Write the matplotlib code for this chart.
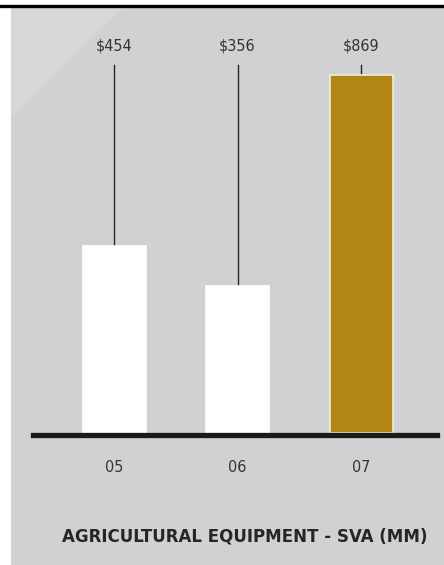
import matplotlib.pyplot as plt
from matplotlib.patches import Rectangle, Polygon

years = ['05', '06', '07']
values = [454, 356, 869]
labels = ['$454', '$356', '$869']
colors = ['white', 'white', '#b08614']
edges = ['white', 'white', '#f4ecd6']
title = 'AGRICULTURAL EQUIPMENT - SVA (MM)'

W, H = 444, 565
plt.rcParams['font.family'] = ['DejaVu Sans']
plt.rcParams['font.stretch'] = 'condensed'

fig = plt.figure(figsize=(W / 100, H / 100), dpi=100)
fig.patch.set_facecolor('white')

# gray panel, lighter diagonal corner, black rule on top
fig.add_artist(Rectangle((11 / W, 0), 1, (H - 8) / H, transform=fig.transFigure,
                         facecolor='#d0d1d3', edgecolor='none', zorder=0))
fig.add_artist(Polygon([(11 / W, (H - 8) / H), (122 / W, (H - 8) / H), (11 / W, (H - 118) / H)],
                       transform=fig.transFigure, facecolor='#d6d7d9', edgecolor='none', zorder=0))
fig.add_artist(plt.Line2D([0, 1], [(H - 5.5) / H, (H - 5.5) / H], transform=fig.transFigure,
                          color='black', lw=2.4))

base_px = 433
ax = fig.add_axes([33 / W, (H - base_px) / H, 404 / W, 412 / H])
ax.set_facecolor('none')
ax.set_xlim(-0.656, 2.615)
ax.set_ylim(0, 1000)
for s in ax.spines.values():
    s.set_visible(False)
ax.set_yticks([])
ax.set_xticks([])

x = range(len(values))
ax.bar(x, values, width=0.51, color=colors, edgecolor=edges, linewidth=1.2, zorder=2)
ax.axhline(-6, color='#1a1a1a', lw=3.8, clip_on=False, zorder=3)

line_top = 893
label_y = 939
for i, v in enumerate(values):
    ax.plot([i, i], [v, line_top], color='#262626', lw=1.0, zorder=1)
    ax.text(i, label_y, labels[i], ha='center', va='center', fontsize=11.5, color='#333333')
    ax.text(i, -83, years[i], ha='center', va='center', fontsize=11.5, color='#333333')

fig.text(427 / W, (H - 537) / H, title, ha='right', va='center', fontsize=13.3,
         fontweight='bold', color='#262626')

fig.savefig('out.png', dpi=100)
